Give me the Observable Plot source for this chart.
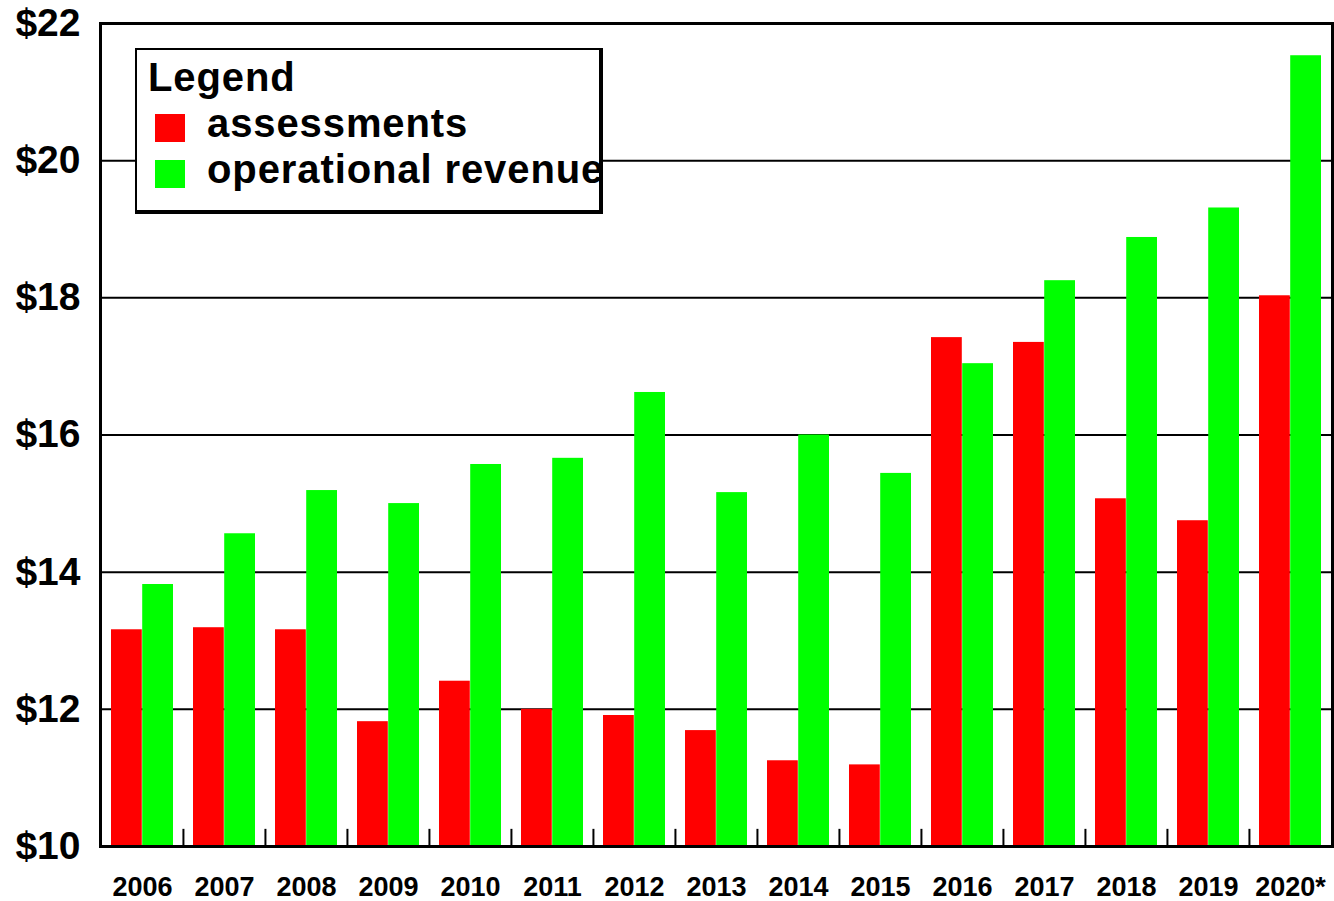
<!DOCTYPE html>
<html>
<head>
<meta charset="utf-8">
<script src="https://cdn.jsdelivr.net/npm/d3@7"></script>
<script src="https://cdn.jsdelivr.net/npm/@observablehq/plot@0.6"></script>
<style>
  html, body { margin: 0; padding: 0; background: white; }
  #wrap { position: relative; width: 1334px; height: 901px; font-family: "Liberation Sans", Arial, sans-serif; font-weight: bold; }
  #legend { position: absolute; left: 135px; top: 48px; width: 462px; height: 160px; background: white;
            border-top: 2px solid black; border-left: 2px solid black; border-right: 4px solid black; border-bottom: 4px solid black; }
  #legend .title { position: absolute; left: 11px; top: 4px; font-size: 40px; line-height: 46px; white-space: nowrap; letter-spacing: 0.9px; }
  #legend .row { position: absolute; left: 18px; height: 46px; white-space: nowrap; }
  #legend .sw { position: absolute; left: 0; top: 14px; width: 30px; height: 28px; }
  #legend .lab { position: absolute; left: 52px; top: 0; font-size: 40px; line-height: 46px; letter-spacing: 0.9px; }
</style>
</head>
<body>
<div id="wrap"></div>
<script>
const years = ["2006","2007","2008","2009","2010","2011","2012","2013","2014","2015","2016","2017","2018","2019","2020*"];
const assessments = [13.16, 13.19, 13.16, 11.82, 12.41, 12.0, 11.91, 11.69, 11.25, 11.19, 17.42, 17.35, 15.07, 14.75, 18.03];
const operationalRevenue = [13.82, 14.56, 15.19, 15.0, 15.57, 15.66, 16.62, 15.16, 16.0, 15.44, 17.04, 18.25, 18.88, 19.31, 21.53];
const seriesNames = ["assessments", "operational revenue"];
const seriesColors = ["#ff0000", "#00ff00"];
const yTicks = [10, 12, 14, 16, 18, 20, 22];
const legendTitle = "Legend";

const W = 1334, H = 901, mL = 100, mR = 2, mT = 23, mB = 55;
const padInner = 0.24, padOuter = 0.12;
const step = (W - mL - mR) / (years.length - padInner + 2 * padOuter);
const half = step * (1 - padInner) / 2;

const data = years.map((y, i) => ({year: y, a: assessments[i], o: operationalRevenue[i]}));

const chart = Plot.plot({
  width: W, height: H,
  marginLeft: mL, marginRight: mR, marginTop: mT, marginBottom: mB,
  style: {fontFamily: "'Liberation Sans', Arial, sans-serif", fontWeight: "bold", color: "black", background: "white", overflow: "visible"},
  x: {domain: years, paddingInner: padInner, paddingOuter: padOuter, label: null},
  y: {domain: [10, 22], label: null},
  marks: [
    Plot.ruleY(yTicks.slice(1, -1), {stroke: "black", strokeWidth: 2}),
    Plot.barY(data, {x: "year", y1: 10, y2: "a", fill: seriesColors[0], insetRight: half}),
    Plot.barY(data, {x: "year", y1: 10, y2: "o", fill: seriesColors[1], insetLeft: half}),
    Plot.ruleX(years.slice(1), {x: d => d, y1: 10, y2: 10.25, dx: -step / 2, stroke: "black", strokeWidth: 2}),
    Plot.frame({stroke: "black", strokeWidth: 3}),
    Plot.axisY({ticks: yTicks, tickSize: 0, tickPadding: 20, tickFormat: d => "$" + d, fontSize: 39}),
    Plot.axisX({tickSize: 0, tickPadding: 30, fontSize: 27})
  ]
});

const wrap = document.getElementById("wrap");
wrap.appendChild(chart);

const legend = document.createElement("div");
legend.id = "legend";
const t = document.createElement("div");
t.className = "title";
t.textContent = legendTitle;
legend.appendChild(t);
seriesNames.forEach((name, i) => {
  const row = document.createElement("div");
  row.className = "row";
  row.style.top = (50 + i * 46) + "px";
  const sw = document.createElement("div");
  sw.className = "sw";
  sw.style.background = seriesColors[i];
  const lab = document.createElement("div");
  lab.className = "lab";
  lab.textContent = name;
  row.appendChild(sw);
  row.appendChild(lab);
  legend.appendChild(row);
});
wrap.appendChild(legend);
</script>
</body>
</html>
